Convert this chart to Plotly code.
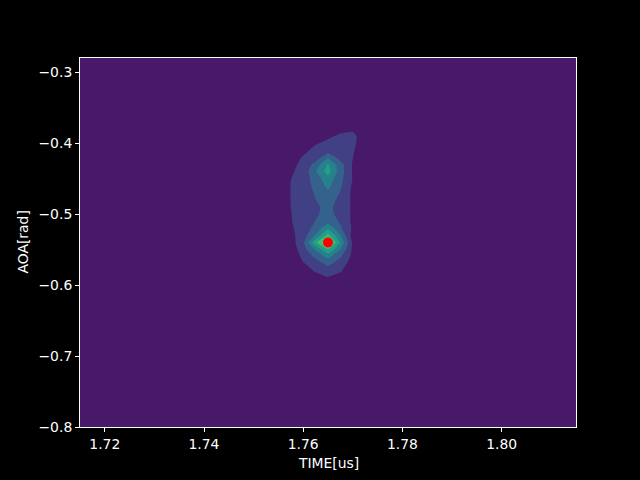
import plotly.graph_objects as go

# ---- data ----
time_us = [1.715, 1.755, 1.7575, 1.760, 1.7625, 1.765, 1.7675, 1.770, 1.7725, 1.775, 1.815]
aoa_rad = [-0.28, -0.37, -0.38, -0.39, -0.40, -0.41, -0.42, -0.43, -0.44, -0.45, -0.46,
           -0.47, -0.48, -0.49, -0.50, -0.51, -0.52, -0.53, -0.54, -0.55, -0.56,
           -0.57, -0.58, -0.59, -0.60, -0.80]
# spectrum level (rows follow aoa_rad, columns follow time_us)
spectrum = [
    [0, 0, 0, 0, 0, 0, 0, 0, 0, 0, 0],
    [0, 0, 0, 0, 0.15, 0.3, 0.45, 0.5, 0.15, 0, 0],
    [0, 0, 0, 0.1, 0.35, 0.6, 0.75, 0.85, 0.3, 0, 0],
    [0, 0, 0.2, 0.4, 0.65, 0.84, 1.15, 1.28, 0.4, 0, 0],
    [0, 0.05, 0.3, 0.6, 0.91, 1.2, 1.35, 1.23, 0.4, 0, 0],
    [0, 0.05, 0.4, 0.71, 1.3, 1.45, 1.5, 1.1, 0.3, 0, 0],
    [0, 0.1, 0.5, 1.09, 1.3, 2.9, 1.5, 1.02, 0.3, 0, 0],
    [0, 0.2, 0.78, 1.2, 2.41, 4.1, 2.4, 0.9, 0.2, 0, 0],
    [0, 0.25, 0.88, 1.3, 2.95, 4.5, 2.5, 0.9, 0.2, 0, 0],
    [0, 0.3, 0.98, 1.42, 2.49, 3.6, 2.32, 0.95, 0.2, 0, 0],
    [0, 0.3, 1.02, 1.455, 2.3, 3.25, 2.15, 0.85, 0.2, 0, 0],
    [0, 0.3, 1.02, 1.45, 2.1, 2.85, 1.93, 0.77, 0.2, 0, 0],
    [0, 0.3, 1.02, 1.4, 1.985, 2.6, 1.67, 0.83, 0.2, 0, 0],
    [0, 0.3, 1.0, 1.35, 1.72, 2.45, 1.29, 0.93, 0.2, 0, 0],
    [0, 0.3, 0.97, 1.35, 1.81, 2.45, 1.49, 0.88, 0.2, 0, 0],
    [0, 0.3, 0.945, 1.4, 2.035, 2.55, 1.88, 0.78, 0.2, 0, 0],
    [0, 0.25, 0.84, 1.5, 2.3, 3.9, 2.15, 0.85, 0.2, 0, 0],
    [0, 0.2, 0.72, 1.5, 3.1, 5.3, 3.1, 0.54, 0.1, 0, 0],
    [0, 0.1, 0.5, 1.8, 4.9, 7.0, 4.0, 0.8, 0.1, 0, 0],
    [0, 0.05, 0.3, 1.6, 3.1, 5.05, 3.0, 0.8, 0.1, 0, 0],
    [0, 0, 0.05, 1.3, 2.2, 3.3, 2.1, 0.725, 0.1, 0, 0],
    [0, 0, 0, 0.92, 1.4, 2.3, 1.35, 0.65, 0.05, 0, 0],
    [0, 0, 0, 0.5, 1.11, 1.36, 1.1, 0.4, 0, 0, 0],
    [0, 0, 0, 0.2, 0.5, 0.95, 0.6, 0.2, 0, 0, 0],
    [0, 0, 0, 0, 0.2, 0.4, 0.25, 0, 0, 0, 0],
    [0, 0, 0, 0, 0, 0, 0, 0, 0, 0, 0],
]
peak_time = [1.765]
peak_aoa = [-0.54]

x_tick_vals = [1.72, 1.74, 1.76, 1.78, 1.80]
x_tick_labels = ["1.72", "1.74", "1.76", "1.78", "1.80"]
y_tick_vals = [-0.3, -0.4, -0.5, -0.6, -0.7, -0.8]
y_tick_labels = ["\u22120.3", "\u22120.4", "\u22120.5", "\u22120.6", "\u22120.7", "\u22120.8"]

# viridis sampled at band centres (8 filled bands)
band_colors = ["#481869", "#424085", "#34628d", "#27818d",
               "#229f87", "#40bc72", "#82d34c", "#d5e226"]

# ---- figure ----
n = len(band_colors)
colorscale = [[i / (n - 1), c] for i, c in enumerate(band_colors)]

y_asc = aoa_rad[::-1]
z_asc = spectrum[::-1]

fig = go.Figure()
fig.add_trace(go.Contour(
    x=time_us, y=y_asc, z=z_asc,
    autocontour=False,
    contours=dict(start=1, end=7, size=1, coloring="fill", showlines=False),
    line=dict(width=0, smoothing=0),
    colorscale=colorscale,
    showscale=False,
    hoverinfo="skip",
))
fig.add_trace(go.Scatter(
    x=peak_time, y=peak_aoa, mode="markers",
    marker=dict(color="#ff0000", size=10, line=dict(width=0)),
    showlegend=False, hoverinfo="skip",
))

font = dict(family="DejaVu Sans", size=13.9, color="white")
axis_common = dict(
    showgrid=False, zeroline=False,
    showline=True, linecolor="white", linewidth=1, mirror=True,
    ticks="outside", ticklen=4, tickwidth=1, tickcolor="white",
    tickfont=font,
)
fig.update_layout(
    width=640, height=480,
    margin=dict(l=80, r=64, t=58, b=53, pad=0),
    paper_bgcolor="black", plot_bgcolor="black",
    font=font,
    showlegend=False,
    xaxis=dict(range=[1.715, 1.815], tickvals=x_tick_vals, ticktext=x_tick_labels,
               **axis_common),
    yaxis=dict(range=[-0.8, -0.28], tickvals=y_tick_vals, ticktext=y_tick_labels,
               **axis_common),
    annotations=[
        dict(text="TIME[us]", xref="paper", yref="paper", x=0.5, y=0,
             xanchor="center", yanchor="middle", yshift=-36, showarrow=False, font=font),
        dict(text="AOA[rad]", xref="paper", yref="paper", x=0, y=0.5,
             xanchor="center", yanchor="middle", xshift=-58, textangle=-90,
             showarrow=False, font=font),
    ],
)

fig.write_html(
    "out.html",
    config={"displayModeBar": False},
    post_script="document.body.style.margin='0';document.body.style.background='black';",
)
